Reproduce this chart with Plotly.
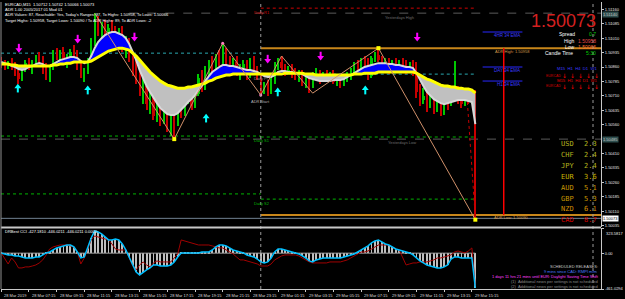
import plotly.graph_objects as go

# ---------------- DATA (EURCAD M15, 28 Mar 2019 05:15 .. 29 Mar 2019 15:30) ----------------
opens = [1.50896,1.50875,1.50860,1.50886,1.50854,1.50828,1.50797,1.50854,1.50880,1.50865,
 1.50886,1.50906,1.50891,1.50844,1.50813,1.50854,1.50927,1.50906,1.50938,1.50896,
 1.50917,1.50938,1.50917,1.50865,1.50823,1.50844,1.50896,1.50990,1.51104,1.51052,
 1.51073,1.51031,1.51062,1.51042,1.51010,1.51036,1.50958,1.50990,1.50906,1.50834,
 1.50792,1.50730,1.50761,1.50667,1.50698,1.50605,1.50657,1.50584,1.50636,1.50553,
 1.50615,1.50574,1.50667,1.50626,1.50698,1.50730,1.50657,1.50719,1.50802,1.50750,
 1.50844,1.50875,1.50854,1.50906,1.50886,1.50938,1.50875,1.50844,1.50886,1.50834,
 1.50854,1.50875,1.50813,1.50896,1.50844,1.50813,1.50740,1.50761,1.50730,1.50792,
 1.50865,1.50886,1.50854,1.50834,1.50844,1.50823,1.50813,1.50834,1.50782,1.50792,
 1.50761,1.50813,1.50834,1.50792,1.50823,1.50802,1.50823,1.50782,1.50802,1.50771,
 1.50792,1.50823,1.50844,1.50865,1.50844,1.50886,1.50875,1.50813,1.50906,1.50922,
 1.50896,1.50854,1.50886,1.50844,1.50875,1.50865,1.50886,1.50854,1.50844,1.50875,
 1.50834,1.50730,1.50688,1.50709,1.50657,1.50688,1.50646,1.50678,1.50626,1.50688,
 1.50667,1.50709,1.50730,1.50698,1.50667,1.50698,1.50678,1.50712]
highs = [1.50912,1.50896,1.50891,1.50906,1.50886,1.50844,1.50865,1.50896,1.50906,1.50896,
 1.50922,1.50938,1.50917,1.50880,1.50865,1.50948,1.50958,1.50948,1.50964,1.50927,
 1.50953,1.50974,1.50948,1.50896,1.50854,1.50906,1.51010,1.51140,1.51125,1.51094,
 1.51104,1.51083,1.51104,1.51073,1.51062,1.51073,1.51021,1.51010,1.50938,1.50896,
 1.50844,1.50802,1.50792,1.50730,1.50719,1.50688,1.50698,1.50667,1.50657,1.50626,
 1.50646,1.50688,1.50709,1.50719,1.50750,1.50761,1.50740,1.50823,1.50844,1.50865,
 1.50896,1.50917,1.50927,1.50948,1.50984,1.50958,1.50917,1.50906,1.50917,1.50875,
 1.50896,1.50896,1.50906,1.50917,1.50865,1.50823,1.50782,1.50792,1.50813,1.50886,
 1.50906,1.50917,1.50875,1.50865,1.50875,1.50854,1.50844,1.50844,1.50823,1.50813,
 1.50834,1.50854,1.50844,1.50834,1.50844,1.50834,1.50844,1.50823,1.50823,1.50813,
 1.50834,1.50854,1.50886,1.50896,1.50906,1.50917,1.50906,1.50917,1.50938,1.50958,
 1.50917,1.50906,1.50906,1.50896,1.50906,1.50896,1.50906,1.50896,1.50886,1.50896,
 1.50886,1.50771,1.50750,1.50740,1.50719,1.50709,1.50698,1.50688,1.50709,1.50719,
 1.50740,1.50891,1.50761,1.50730,1.50719,1.50730,1.50740,1.50742]
lows = [1.50854,1.50844,1.50849,1.50844,1.50813,1.50771,1.50787,1.50834,1.50844,1.50823,
 1.50865,1.50875,1.50823,1.50792,1.50782,1.50844,1.50896,1.50875,1.50886,1.50854,
 1.50896,1.50906,1.50844,1.50802,1.50782,1.50823,1.50886,1.50969,1.51021,1.51000,
 1.51010,1.50979,1.51021,1.50990,1.50969,1.50938,1.50906,1.50886,1.50813,1.50771,
 1.50709,1.50667,1.50636,1.50615,1.50584,1.50574,1.50553,1.50563,1.50522,1.50501,
 1.50485,1.50553,1.50594,1.50605,1.50667,1.50636,1.50646,1.50709,1.50730,1.50740,
 1.50802,1.50834,1.50844,1.50865,1.50875,1.50854,1.50834,1.50823,1.50813,1.50792,
 1.50823,1.50792,1.50802,1.50823,1.50792,1.50714,1.50719,1.50709,1.50719,1.50771,
 1.50844,1.50834,1.50813,1.50823,1.50802,1.50792,1.50782,1.50761,1.50750,1.50724,
 1.50750,1.50792,1.50771,1.50782,1.50792,1.50782,1.50771,1.50761,1.50750,1.50761,
 1.50782,1.50792,1.50823,1.50834,1.50834,1.50854,1.50792,1.50802,1.50886,1.50886,
 1.50834,1.50844,1.50823,1.50834,1.50844,1.50834,1.50844,1.50823,1.50834,1.50813,
 1.50698,1.50657,1.50667,1.50626,1.50646,1.50615,1.50626,1.50605,1.50610,1.50636,
 1.50657,1.50688,1.50667,1.50646,1.50657,1.50667,1.50667,1.50066]
closes = [1.50875,1.50860,1.50886,1.50854,1.50828,1.50797,1.50854,1.50880,1.50865,1.50886,
 1.50906,1.50891,1.50844,1.50813,1.50854,1.50927,1.50906,1.50938,1.50896,1.50917,
 1.50938,1.50917,1.50865,1.50823,1.50844,1.50896,1.50990,1.51104,1.51052,1.51073,
 1.51031,1.51062,1.51042,1.51010,1.51036,1.50958,1.50990,1.50906,1.50834,1.50792,
 1.50730,1.50761,1.50667,1.50698,1.50605,1.50657,1.50584,1.50636,1.50553,1.50615,
 1.50574,1.50667,1.50626,1.50698,1.50730,1.50657,1.50719,1.50802,1.50750,1.50844,
 1.50875,1.50854,1.50906,1.50886,1.50938,1.50875,1.50844,1.50886,1.50834,1.50854,
 1.50875,1.50813,1.50896,1.50844,1.50813,1.50740,1.50761,1.50730,1.50792,1.50865,
 1.50886,1.50854,1.50834,1.50844,1.50823,1.50813,1.50834,1.50782,1.50792,1.50761,
 1.50813,1.50834,1.50792,1.50823,1.50802,1.50823,1.50782,1.50802,1.50771,1.50792,
 1.50823,1.50844,1.50865,1.50844,1.50886,1.50875,1.50813,1.50906,1.50922,1.50896,
 1.50854,1.50886,1.50844,1.50875,1.50865,1.50886,1.50854,1.50844,1.50875,1.50834,
 1.50730,1.50688,1.50709,1.50657,1.50688,1.50646,1.50678,1.50626,1.50688,1.50667,
 1.50709,1.50730,1.50698,1.50667,1.50698,1.50678,1.50719,1.50073]
ma_fast = [1.50886,1.50880,1.50875,1.50870,1.50860,1.50849,1.50844,1.50849,1.50860,1.50865,
 1.50875,1.50880,1.50875,1.50865,1.50865,1.50875,1.50886,1.50896,1.50901,1.50906,
 1.50912,1.50912,1.50906,1.50891,1.50880,1.50886,1.50917,1.50958,1.50990,1.51010,
 1.51026,1.51036,1.51042,1.51042,1.51036,1.51026,1.51010,1.50979,1.50938,1.50896,
 1.50844,1.50802,1.50761,1.50730,1.50698,1.50672,1.50646,1.50631,1.50615,1.50610,
 1.50610,1.50620,1.50636,1.50657,1.50678,1.50693,1.50714,1.50740,1.50761,1.50787,
 1.50813,1.50834,1.50849,1.50860,1.50870,1.50870,1.50865,1.50865,1.50860,1.50854,
 1.50849,1.50844,1.50844,1.50839,1.50834,1.50823,1.50813,1.50808,1.50808,1.50818,
 1.50834,1.50839,1.50839,1.50834,1.50834,1.50828,1.50828,1.50823,1.50813,1.50802,
 1.50797,1.50792,1.50787,1.50787,1.50787,1.50787,1.50792,1.50792,1.50792,1.50797,
 1.50808,1.50818,1.50828,1.50839,1.50849,1.50860,1.50865,1.50870,1.50875,1.50880,
 1.50880,1.50880,1.50875,1.50875,1.50870,1.50870,1.50865,1.50860,1.50860,1.50854,
 1.50828,1.50792,1.50761,1.50730,1.50709,1.50693,1.50683,1.50672,1.50667,1.50672,
 1.50678,1.50683,1.50688,1.50688,1.50688,1.50683,1.50678,1.50563]
ma_slow = [1.50875,1.50875,1.50875,1.50870,1.50870,1.50865,1.50865,1.50865,1.50865,1.50865,
 1.50865,1.50865,1.50865,1.50865,1.50865,1.50870,1.50870,1.50875,1.50875,1.50880,
 1.50880,1.50886,1.50886,1.50886,1.50886,1.50886,1.50891,1.50901,1.50912,1.50922,
 1.50932,1.50943,1.50948,1.50953,1.50958,1.50958,1.50953,1.50948,1.50932,1.50917,
 1.50896,1.50875,1.50854,1.50834,1.50818,1.50802,1.50787,1.50776,1.50766,1.50761,
 1.50756,1.50750,1.50750,1.50750,1.50756,1.50756,1.50761,1.50766,1.50771,1.50776,
 1.50787,1.50792,1.50802,1.50808,1.50813,1.50818,1.50818,1.50823,1.50823,1.50823,
 1.50823,1.50823,1.50823,1.50823,1.50823,1.50823,1.50823,1.50823,1.50823,1.50823,
 1.50823,1.50823,1.50828,1.50828,1.50828,1.50828,1.50828,1.50828,1.50823,1.50823,
 1.50823,1.50818,1.50818,1.50818,1.50818,1.50818,1.50818,1.50818,1.50818,1.50818,
 1.50818,1.50818,1.50823,1.50823,1.50823,1.50828,1.50828,1.50828,1.50828,1.50834,
 1.50834,1.50834,1.50834,1.50834,1.50834,1.50834,1.50834,1.50834,1.50834,1.50834,
 1.50828,1.50818,1.50808,1.50797,1.50792,1.50782,1.50776,1.50766,1.50761,1.50761,
 1.50756,1.50756,1.50750,1.50750,1.50745,1.50745,1.50740,1.50724]
cci = [3,-10,-23,-23,-36,-36,-49,-62,-62,-62,
 -49,-49,-23,3,15,41,67,80,93,105,
 105,80,15,-62,-49,80,195,285,273,247,
 208,170,170,183,170,118,41,-49,-152,-242,
 -280,-242,-216,-190,-152,-152,-165,-165,-165,-152,
 -113,-49,3,3,3,3,3,3,15,15,
 15,41,80,105,105,93,67,41,28,15,
 3,-23,-36,-49,-75,-113,-126,-113,-62,15,
 54,54,41,28,15,3,-10,-36,-62,-100,
 -113,-87,-75,-62,-62,-62,-62,-62,-62,-49,
 -36,-23,-10,15,41,67,93,131,157,170,
 144,118,105,80,54,41,28,15,3,-23,
 -62,-100,-126,-152,-165,-177,-190,-190,-177,-152,
 -75,-49,-49,-62,-62,-62,-62,-446.0211]
cci_signal = [3,-62,-139,-62,-113,-190,-190,-177,-177,-165,
 -152,-126,-87,-23,54,80,93,105,105,105,
 93,80,15,-139,-62,67,170,221,208,195,
 183,170,118,54,41,41,41,-62,-165,-216,
 -152,-113,-152,-177,-126,-100,-113,-113,-113,-113,
 -62,-10,170,157,144,131,118,105,105,105,
 105,93,80,67,67,41,15,-10,-49,-87,
 -87,-100,-113,-126,-139,-165,-165,-165,-139,-87,
 -62,-36,-23,-23,-23,-23,-36,-62,-87,-113,
 -126,-126,-126,-126,-126,-113,-113,-113,-113,-100,
 -87,-62,-36,-10,15,15,28,54,80,105,
 105,105,105,80,54,41,-62,-152,-139,-126,
 -126,-113,-113,-113,-100,-87,-62,-62,-49,-36,
 -23,15,28,15,3,28,67,-427.1810]

time_tick_bars = [0,8,16,24,32,40,48,56,64,72,80,88,96,104,112,120,128,136]
time_tick_labels = ["28 Mar 2019","28 Mar 07:15","28 Mar 09:15","28 Mar 11:15","28 Mar 13:15",
 "28 Mar 15:15","28 Mar 17:15","28 Mar 19:15","28 Mar 21:15","28 Mar 23:15","29 Mar 01:15",
 "29 Mar 03:15","29 Mar 05:15","29 Mar 07:15","29 Mar 09:15","29 Mar 11:15","29 Mar 13:15","29 Mar 15:15"]
price_ticks = [1.51160,1.51085,1.51010,1.50935,1.50860,1.50785,1.50710,1.50635,1.50560,
 1.50410,1.50335,1.50260,1.50185,1.50110,1.50035]
sub_max, sub_min = 323.5817, -461.0294
sub_ticks = [sub_max, 0.0, sub_min]
sub_tick_labels = ["", "0.00", "-461.0294"]

yest_high, yest_low = 1.51140, 1.50485
pivot_prev, s1_prev, s2_prev = 1.50932, 1.50501, 1.50200
pivot, r1, s1, s2 = 1.50823, 1.51166, 1.50496, 1.50173
adr_high, adr_low = 1.50958, 1.50090
bid = 1.50073
ema_levels = [1.51042, 1.50860, 1.50787]
ema_names = ["4HR 34 EMA", "DAY 34 EMA", "H1 34 EMA"]
day_sep_bars = [75, 171]

zz_bars = [27, 50, 64, 75, 81, 90, 109, 137]
zz_prices = [1.51140, 1.50485, 1.50984, 1.50714, 1.50917, 1.50724, 1.50958, 1.50066]
sell_bars = [5.1, 22.1, 38.5, 77.0, 92.3, 120.2]
sell_prices = [1.50958, 1.51005, 1.51016, 1.50901, 1.50917, 1.51016]
buy_bars = [4.8, 25.0, 59.2, 79.9, 105.2]
buy_prices = [1.50750, 1.50740, 1.50594, 1.50730, 1.50740]

currencies = ["USD", "CHF", "JPY", "EUR", "AUD", "GBP", "NZD", "CAD"]
strengths = ["2.3", "2.4", "2.4", "3.6", "5.1", "5.3", "6.1", "8.7"]
strength_colors = ["#b4b41e", "#b4b41e", "#b4b41e", "#c8b400", "#c89600", "#c89600", "#d28c00", "#d20000"]

# ---------------- FIGURE ----------------
n = len(closes)
bars = list(range(n))
FONT = "Liberation Sans, Arial, sans-serif"
XR = [-0.06, 173.31]
YR = [1.50028, 1.51198]
H_PLOT = 287.0
PRICE_PER_PX = (YR[1] - YR[0]) / 225.0

def PX(x):
    return (x - 1) / 603.0

def PY(y):
    return (289 - y) / H_PLOT

blue_top = [max(f, s) for f, s in zip(ma_fast, ma_slow)]
grey_bot = [min(f, s) for f, s in zip(ma_fast, ma_slow)]
up = [c >= o for o, c in zip(opens, closes)]
candle_col = ["#00c800" if u else "#c80000" for u in up]
body_base = [min(o, c) for o, c in zip(opens, closes)]
body_h = [max(abs(c - o), 0.6 * PRICE_PER_PX) for o, c in zip(opens, closes)]
wick_h = [h - l for h, l in zip(highs, lows)]

fig = go.Figure()
noline = dict(width=0)
fig.add_trace(go.Scatter(x=bars, y=ma_slow, mode="lines", line=noline, hoverinfo="skip", showlegend=False))
fig.add_trace(go.Scatter(x=bars, y=blue_top, mode="lines", line=noline, fill="tonexty",
                         fillcolor="#0000ff", hoverinfo="skip", showlegend=False))
fig.add_trace(go.Scatter(x=bars, y=ma_slow, mode="lines", line=noline, hoverinfo="skip", showlegend=False))
fig.add_trace(go.Scatter(x=bars, y=grey_bot, mode="lines", line=noline, fill="tonexty",
                         fillcolor="#c0c0c0", hoverinfo="skip", showlegend=False))
fig.add_trace(go.Scatter(x=bars, y=ma_fast, mode="lines", line=dict(color="#d8d8d8", width=2),
                         hoverinfo="skip", showlegend=False))
fig.add_trace(go.Scatter(x=bars, y=ma_slow, mode="lines", line=dict(color="#ffff00", width=3),
                         hoverinfo="skip", showlegend=False))
fig.add_trace(go.Scatter(x=zz_bars, y=zz_prices, mode="lines", line=dict(color="#d0906a", width=1),
                         hoverinfo="skip", showlegend=False))
fig.add_trace(go.Bar(x=bars, y=wick_h, base=lows, width=0.3, marker=dict(color=candle_col, line=dict(width=0)),
                     hoverinfo="skip", showlegend=False))
fig.add_trace(go.Bar(x=bars, y=body_h, base=body_base, width=0.62,
                     marker=dict(color=candle_col, line=dict(width=0)), hoverinfo="skip", showlegend=False))
fig.add_trace(go.Scatter(x=[zz_bars[-1] - 2.3, zz_bars[-1]], y=[closes[-3], closes[-1]], mode="lines",
                         line=dict(color="#c80000", width=1, dash="dot"), hoverinfo="skip", showlegend=False))
fig.add_trace(go.Scatter(x=[zz_bars[i] for i in (1, 6, 7)], y=[zz_prices[i] for i in (1, 6, 7)],
                         mode="markers", marker=dict(symbol="square", size=4, color="#ffff00"),
                         hoverinfo="skip", showlegend=False))
fig.add_trace(go.Scatter(x=[zz_bars[i] for i in (2, 3)], y=[zz_prices[i] for i in (2, 3)],
                         mode="markers", marker=dict(symbol="circle", size=3, color="#ff80c0"),
                         hoverinfo="skip", showlegend=False))
fig.add_trace(go.Scatter(x=sell_bars, y=[p - 1.5 * PRICE_PER_PX for p in sell_prices], mode="markers",
                         marker=dict(symbol="triangle-down", size=6, color="#ff00ff", line=dict(width=0)),
                         hoverinfo="skip", showlegend=False))
fig.add_trace(go.Scatter(x=sell_bars, y=[p + 1.5 * PRICE_PER_PX for p in sell_prices], mode="markers",
                         marker=dict(symbol="line-ns", size=4, color="#ff00ff", line=dict(width=2, color="#ff00ff")),
                         hoverinfo="skip", showlegend=False))
fig.add_trace(go.Scatter(x=buy_bars, y=[p + 1.5 * PRICE_PER_PX for p in buy_prices], mode="markers",
                         marker=dict(symbol="triangle-up", size=6, color="#00ffff", line=dict(width=0)),
                         hoverinfo="skip", showlegend=False))
fig.add_trace(go.Scatter(x=buy_bars, y=[p - 1.5 * PRICE_PER_PX for p in buy_prices], mode="markers",
                         marker=dict(symbol="line-ns", size=4, color="#00ffff", line=dict(width=2, color="#00ffff")),
                         hoverinfo="skip", showlegend=False))

fig.add_trace(go.Bar(x=bars, y=cci, width=0.28, marker=dict(color="#bebebe", line=dict(width=0)),
                     xaxis="x2", yaxis="y2", hoverinfo="skip", showlegend=False))
fig.add_trace(go.Scatter(x=bars, y=[0.0] * n, mode="lines", line=dict(color="#a0a0a0", width=1),
                         xaxis="x2", yaxis="y2", hoverinfo="skip", showlegend=False))
fig.add_trace(go.Scatter(x=bars, y=cci_signal, mode="lines", line=dict(color="#a00000", width=1),
                         xaxis="x2", yaxis="y2", hoverinfo="skip", showlegend=False))
fig.add_trace(go.Scatter(x=bars, y=cci, mode="lines", line=dict(color="#00bfff", width=1.5),
                         xaxis="x2", yaxis="y2", hoverinfo="skip", showlegend=False))

shapes = []
def hline(y, x0, x1, color, width=1, dash="solid"):
    shapes.append(dict(type="line", xref="x", yref="y", x0=x0, x1=x1, y0=y, y1=y,
                       line=dict(color=color, width=width, dash=dash), layer="below"))

hline(pivot_prev, XR[0], day_sep_bars[0], "#2aa8b0", 1, "dot")
hline(s1_prev, XR[0], day_sep_bars[0], "#00b400", 1, "dot")
hline(s2_prev, XR[0], day_sep_bars[0], "#00b400", 1, "dot")
hline(pivot, day_sep_bars[0], n - 1, "#2aa8b0", 1, "dot")
hline(r1, day_sep_bars[0], n - 1, "#d00000", 1, "dot")
hline(s1, day_sep_bars[0], n - 1, "#00b400", 1, "dot")
hline(s2, day_sep_bars[0], n - 1, "#00b400", 1, "dot")
hline(yest_high, zz_bars[0] + 10, XR[1], "#5a5a5a", 1, "dash")
hline(yest_low, XR[0], XR[1], "#5a5a5a", 1, "dash")
hline(adr_high, day_sep_bars[0], XR[1], "#c8861a", 2)
hline(adr_low, day_sep_bars[0], XR[1], "#c8861a", 2)
hline(bid, XR[0], XR[1], "#708090", 1)
for lv in ema_levels:
    hline(lv, 139.1, 150.6, "#2828ff", 1)
shapes.append(dict(type="line", xref="x", yref="y", x0=145.2, x1=145.2, y0=adr_high, y1=adr_low,
                   line=dict(color="#ff0000", width=1.5)))
for b in day_sep_bars:
    shapes.append(dict(type="line", xref="x", yref="paper", x0=b, x1=b, y0=0, y1=1,
                       line=dict(color="#9a9a9a", width=1, dash="dot")))
shapes.append(dict(type="line", xref="paper", yref="paper", x0=0, x1=1, y0=PY(227.5), y1=PY(227.5),
                   line=dict(color="#c8c8c8", width=2)))
shapes.append(dict(type="line", xref="paper", yref="paper", x0=0, x1=0, y0=0, y1=1,
                   line=dict(color="#909090", width=1)))

ann = []
def text(x, y, s, color, size=4, xanchor="left", family=FONT, xref="paper", yref="paper", yshift=0, **kw):
    d = dict(x=x, y=y, xref=xref, yref=yref, text=s, showarrow=False, xanchor=xanchor,
             yanchor="middle", font=dict(family=family, size=size, color=color), yshift=yshift)
    d.update(kw)
    ann.append(d)

text(PX(3), PY(4), "EURCAD,M15  1.50712 1.50742 1.50066 1.50073", "#ffffff")
text(PX(3), PY(10), "ADR 1.00 2005/2017 01 Mod 01", "#ffffff")
text(PX(3), PY(15), "ADR Values: 87, Reachable: Yes, Today's Ranges: 87, To Highs: 1.50958, To Lows: 1.50066", "#ffffff")
text(PX(3), PY(20), "Target Highs: 1.50958, Target Lows: 1.50090 / To ADR Highs: 89, To ADR Lows: -2", "#ffffff")

text(72.4, r1, "Daily R1", "#d00000", xref="x", yref="y", yshift=-4)
text(72.6, pivot, "Daily Pi", "#8c8c8c", xref="x", yref="y", yshift=-4)
text(72.4, s1, "Daily S1", "#00b400", xref="x", yref="y", yshift=-3)
text(72.4, s2, "Daily S2", "#00b400", xref="x", yref="y", yshift=-4)
text(110.4, yest_high, "Yesterdays High", "#6e6e6e", xref="x", yref="y", yshift=-4)
text(111.2, yest_low, "Yesterdays Low", "#6e6e6e", xref="x", yref="y", yshift=-3)
text(142.0, adr_high, "ADR High: 1.50958", "#d29a4a", xref="x", yref="y", yshift=-3)
text(141.7, adr_low, "ADR Low: 1.50090", "#d29a4a", xref="x", yref="y", yshift=-2)
text(75, zz_prices[3], "ADR Start", "#b4b4b4", xanchor="center", xref="x", yref="y", yshift=-6)
for lv, nm in zip(ema_levels, ema_names):
    text(150.6, lv, nm, "#3c3cff", size=4.5, xanchor="right", xref="x", yref="y", yshift=-3)

text(PX(601), PY(20.5), "1.50073", "#d42020", size=18, xanchor="right")
text(PX(580), PY(34), "Spread", "#ffffff", size=5, xanchor="right")
text(PX(601), PY(34), "0.7", "#00d200", size=5, xanchor="right")
text(PX(580), PY(41), "High", "#ffffff", size=5, xanchor="right")
text(PX(601), PY(41), "1.50958", "#e04848", size=5, xanchor="right")
text(PX(580), PY(47), "Low", "#ffffff", size=5, xanchor="right")
text(PX(601), PY(47), "1.50066", "#ff7030", size=5, xanchor="right")
text(PX(578), PY(53), "Candle Time", "#ffffff", size=5, xanchor="right")
text(PX(601), PY(53), "5:30", "#00d200", size=5, xanchor="right")

text(PX(602), PY(69), "M15  H1  H4  D1  W1", "#3c3cff", size=4.2, xanchor="right")
text(PX(547), PY(76), "EURCAD", "#d20000", size=3.5)
text(PX(602), PY(80), "M15  H1  H4  D1  W1", "#e00000", size=4.2, xanchor="right")
text(PX(547), PY(86), "EURCAD", "#d20000", size=3.5)
for xx in (567, 575, 583, 591, 599):
    text(PX(xx), PY(75), "↓", "#ff0000", size=6, xanchor="center", family="DejaVu Sans")
    text(PX(xx), PY(86), "↓", "#ff0000", size=6, xanchor="center", family="DejaVu Sans")

for k, (c, v, col) in enumerate(zip(currencies, strengths, strength_colors)):
    yy = 144 + 10.9 * k
    text(PX(562), PY(yy), c, col, size=7, family="DejaVu Sans Mono, monospace")
    text(PX(585), PY(yy), v, col, size=7, family="DejaVu Sans Mono, monospace")

def axbox(y, s, bg, fg, yshift=0):
    ann.append(dict(x=1, y=y, xref="paper", yref="y", text=s, showarrow=False, xanchor="left",
                    yanchor="middle", xshift=1, yshift=yshift, bgcolor=bg, borderpad=0,
                    font=dict(family=FONT, size=4, color=fg)))
axbox(yest_high, "1.51140", "#2f4f4f", "#c8c8c8", yshift=-1)
axbox(yest_low, "1.50485", "#2f4f4f", "#c8c8c8")
axbox(bid, "1.50073", "#ffffff", "#000000")

# sub window max label (placed just under the top edge, as in the terminal)
ann.append(dict(x=1, y=sub_max, xref="paper", yref="y2", text="323.5817", showarrow=False,
                xanchor="left", yanchor="top", xshift=3, yshift=-1,
                font=dict(family=FONT, size=4, color="#e6e6e6")))

text(PX(3), PY(231), "DRBest CCI -427.1810 -446.0211 -446.0211 0.0000", "#ffffff")
text(PX(603), PY(266), "SCHEDULED RELEASES:", "#c8c8c8", xanchor="right")
text(PX(603), PY(271), "9 mins since CAD: RMPI m/m", "#4a7cff", xanchor="right")
text(PX(604), PY(276), "1 days 11 hrs 21 mins until EUR: Daylight Saving Time Shift", "#ff40ff", xanchor="right")
text(PX(603), PY(281), "(1)  Additional news per settings is not scheduled", "#8c8c8c", xanchor="right")
text(PX(603), PY(286), "(2)  Additional news per settings is not scheduled", "#8c8c8c", xanchor="right")

for b, lab in zip(time_tick_bars, time_tick_labels):
    ann.append(dict(x=b, y=0, xref="x2", yref="paper", text=lab, showarrow=False, xanchor="left",
                    yanchor="top", yshift=-2, xshift=1, font=dict(family=FONT, size=4, color="#dcdcdc")))

axis_common = dict(showgrid=False, zeroline=False, fixedrange=True)
fig.update_layout(
    width=625, height=299,
    margin=dict(l=1, r=21, t=2, b=10, pad=0),
    paper_bgcolor="#000000", plot_bgcolor="#000000",
    showlegend=False, barmode="overlay", bargap=0,
    shapes=shapes, annotations=ann,
    xaxis=dict(domain=[0, 1], range=XR, anchor="y", showticklabels=False,
               showline=False, ticks="", **axis_common),
    yaxis=dict(domain=[PY(227), 1], range=YR, anchor="x", side="right",
               tickvals=price_ticks, ticktext=["%.5f" % v for v in price_ticks],
               tickfont=dict(family=FONT, size=4, color="#e6e6e6"), ticks="outside", ticklen=2,
               tickcolor="#c8c8c8", showline=True, linecolor="#c8c8c8", linewidth=1, **axis_common),
    xaxis2=dict(domain=[0, 1], range=XR, anchor="y2", matches="x", showticklabels=False,
                tickvals=time_tick_bars, ticks="outside", ticklen=2, tickcolor="#c8c8c8",
                showline=True, linecolor="#c8c8c8", linewidth=1, **axis_common),
    yaxis2=dict(domain=[0, PY(228)], range=[sub_min, sub_max], anchor="x2", side="right",
                tickvals=sub_ticks, ticktext=sub_tick_labels,
                tickfont=dict(family=FONT, size=4, color="#e6e6e6"), ticks="outside", ticklen=2,
                tickcolor="#c8c8c8", showline=True, linecolor="#c8c8c8", linewidth=1, **axis_common),
)

fig.write_html("out.html")
